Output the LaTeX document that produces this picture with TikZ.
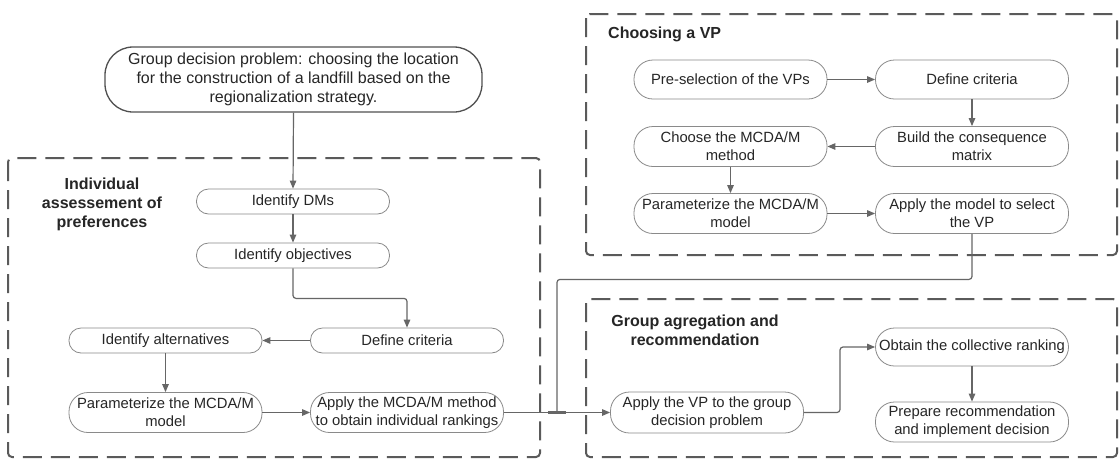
\documentclass[tikz,border=0pt]{standalone}
\usepackage{fontspec}
\setmainfont{Liberation Sans}
\usetikzlibrary{arrows.meta}
\definecolor{nodeline}{HTML}{8A8A8A}
\definecolor{topline}{HTML}{505050}
\definecolor{dashc}{HTML}{5A5A5A}
\definecolor{arrowc}{HTML}{666666}
\definecolor{txt}{HTML}{262626}
\tikzset{
  nbase/.style={draw=nodeline, line width=0.8pt, inner sep=0pt, align=center, text=txt,
    minimum width=193pt, font=\fontsize{14.8}{17.8}\selectfont},
  nsmall/.style={nbase, minimum height=25pt, rounded corners=12pt},
  nbig/.style={nbase, minimum height=40pt, rounded corners=19pt},
  topnode/.style={draw=topline, line width=1.3pt, inner sep=0pt, align=center, text=txt,
    minimum width=377pt, minimum height=65pt, rounded corners=28pt,
    font=\fontsize{16}{19.2}\selectfont},
  dashbox/.style={draw=dashc, line width=2pt, dash pattern=on 19pt off 9pt, rounded corners=4pt},
  title/.style={text=txt, align=center, inner sep=0pt, font=\bfseries\fontsize{16}{19}\selectfont},
  arr/.style={draw=arrowc, line width=1.2pt, -{Triangle[length=8pt,width=6.5pt]}},
  conn/.style={draw=arrowc, line width=1.2pt},
}
\begin{document}
\begin{tikzpicture}[x=1pt,y=-1pt]
\useasboundingbox[fill=white] (0,0) rectangle (1120,459);
% dashed groups
\draw[dashbox] (8,158) rectangle (540,457);
\draw[dashbox] (586,14) rectangle (1117,255);
\draw[dashbox] (586,299) rectangle (1117,457);
% top node
\node[topnode] (top) at (293.5,79.5) {Group decision problem: choosing the location\\for the construction of a landfill based on the\\regionalization strategy.};
% left group
\node[title] (t1) at (102,204) {Individual\\assessement of\\preferences};
\node[nsmall] (dms) at (293,201.5) {Identify DMs};
\node[nsmall] (obj) at (293,255.5) {Identify objectives};
\node[nsmall] (crit) at (407,340.5) {Define criteria};
\node[nsmall] (alt) at (165.5,340.5) {Identify alternatives};
\node[nbig] (par) at (165.5,412.5) {Parameterize the MCDA/M\\model};
\node[nbig] (app) at (407,412.5) {Apply the MCDA/M method\\to obtain individual rankings};
% top right group
\node[title, anchor=west] (t2) at (608,34) {Choosing a VP};
\node[nbig, minimum height=39pt] (pre) at (730.5,79.5) {Pre-selection of the VPs};
\node[nbig, minimum height=39pt] (def2) at (972,79.5) {Define criteria};
\node[nbig] (build) at (972,146.5) {Build the consequence\\matrix};
\node[nbig] (choose) at (730.5,146.5) {Choose the MCDA/M\\method};
\node[nbig] (par2) at (730.5,213.5) {Parameterize the MCDA/M\\model};
\node[nbig] (apply2) at (972,213.5) {Apply the model to select\\the VP};
% bottom right group
\node[title] (t3) at (695,330.5) {Group agregation and\\recommendation};
\node[nbig, minimum height=41pt] (applyvp) at (707,412.5) {Apply the VP to the group\\decision problem};
\node[nbig, minimum height=38pt] (obtain) at (972,347) {Obtain the collective ranking};
\node[nbig] (prep) at (972,422) {Prepare recommendation\\and implement decision};
% connectors
\draw[arr] (top.south) -- (dms.north);
\draw[arr] (dms.south) -- (obj.north);
\draw[arr, rounded corners=3pt] (obj.south) -- ++(0,30) -| (crit.north);
\draw[arr] (crit.west) -- (alt.east);
\draw[arr] (alt.south) -- (par.north);
\draw[arr] (par.east) -- (app.west);
\draw[arr] (app.east) -- (applyvp.west);
\draw[arr] (pre.east) -- (def2.west);
\draw[arr] (def2.south) -- (build.north);
\draw[arr] (build.west) -- (choose.east);
\draw[arr] (choose.south) -- (par2.north);
\draw[arr] (par2.east) -- (apply2.west);
\coordinate (j) at (557,412.5);
\draw[conn, rounded corners=3pt] (apply2.south) -- ++(0,45.5) -| (j);
\draw[draw=arrowc, line width=2.4pt] ([xshift=-9pt]j) -- ([xshift=9pt]j);
\draw[arr, rounded corners=3pt] (applyvp.east) -- (840,412.5) |- (obtain.west);
\draw[arr] (obtain.south) -- (prep.north);
\end{tikzpicture}
\end{document}
